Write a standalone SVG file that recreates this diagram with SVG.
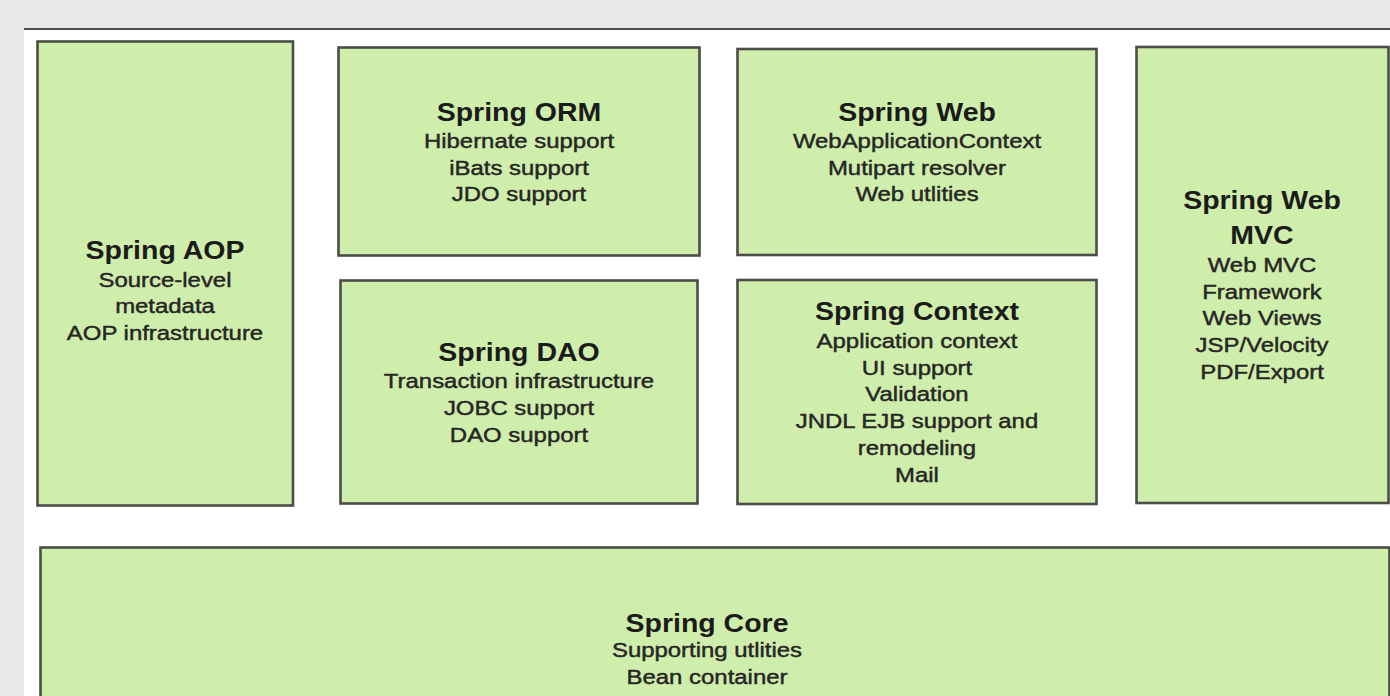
<svg xmlns="http://www.w3.org/2000/svg" width="1390" height="696" viewBox="0 0 1390 696">
<defs>
<style>
.box{fill:#d0eeab;stroke:#4a4d48;stroke-width:2.6}
.t{font-family:"Liberation Sans",Arial,sans-serif;font-weight:bold;font-size:25px;fill:#1b1b1b;text-anchor:middle}
.s{font-family:"Liberation Sans",Arial,sans-serif;font-size:21px;fill:#262626;stroke:#262626;stroke-width:0.45;text-anchor:middle}
</style>
</defs>
<rect x="0" y="0" width="1390" height="696" fill="#e9e9e9"/>
<rect x="24" y="29" width="1366" height="667" fill="#ffffff"/>
<line x1="24" y1="29" x2="1390" y2="29" stroke="#505050" stroke-width="2"/>
<g id="connectors"></g>
<g id="aop">
<rect class="box" x="37.5" y="41.5" width="255.5" height="464"/>
<g transform="translate(165 0) scale(1.14 1)">
<text class="t" x="0" y="259">Spring AOP</text>
<text class="s" x="0" y="287">Source-level</text>
<text class="s" x="0" y="313">metadata</text>
<text class="s" x="0" y="340">AOP infrastructure</text>
</g>
</g>
<g id="orm">
<rect class="box" x="338.5" y="47.5" width="361" height="208"/>
<g transform="translate(519 0) scale(1.14 1)">
<text class="t" x="0" y="121">Spring ORM</text>
<text class="s" x="0" y="148">Hibernate support</text>
<text class="s" x="0" y="175">iBats support</text>
<text class="s" x="0" y="201">JDO support</text>
</g>
</g>
<g id="dao">
<rect class="box" x="340.5" y="280.5" width="357" height="223"/>
<g transform="translate(519 0) scale(1.14 1)">
<text class="t" x="0" y="361">Spring DAO</text>
<text class="s" x="0" y="388">Transaction infrastructure</text>
<text class="s" x="0" y="415">JOBC support</text>
<text class="s" x="0" y="442">DAO support</text>
</g>
</g>
<g id="web">
<rect class="box" x="737.5" y="49" width="359" height="206"/>
<g transform="translate(917 0) scale(1.14 1)">
<text class="t" x="0" y="121">Spring Web</text>
<text class="s" x="0" y="148">WebApplicationContext</text>
<text class="s" x="0" y="175">Mutipart resolver</text>
<text class="s" x="0" y="201">Web utlities</text>
</g>
</g>
<g id="context">
<rect class="box" x="737.5" y="280" width="359" height="224"/>
<g transform="translate(917 0) scale(1.14 1)">
<text class="t" x="0" y="320">Spring Context</text>
<text class="s" x="0" y="348">Application context</text>
<text class="s" x="0" y="375">UI support</text>
<text class="s" x="0" y="401">Validation</text>
<text class="s" x="0" y="428">JNDL EJB support and</text>
<text class="s" x="0" y="455">remodeling</text>
<text class="s" x="0" y="482">Mail</text>
</g>
</g>
<g id="mvc">
<rect class="box" x="1136.5" y="47" width="252" height="456"/>
<g transform="translate(1262 0) scale(1.14 1)">
<text class="t" x="0" y="209">Spring Web</text>
<text class="t" x="0" y="244">MVC</text>
<text class="s" x="0" y="272">Web MVC</text>
<text class="s" x="0" y="299">Framework</text>
<text class="s" x="0" y="325">Web Views</text>
<text class="s" x="0" y="352">JSP/Velocity</text>
<text class="s" x="0" y="379">PDF/Export</text>
</g>
</g>
<g id="core">
<rect class="box" x="40.5" y="547.5" width="1349" height="170"/>
<g transform="translate(707 0) scale(1.14 1)">
<text class="t" x="0" y="632">Spring Core</text>
<text class="s" x="0" y="657">Supporting utlities</text>
<text class="s" x="0" y="684">Bean container</text>
</g>
</g>
</svg>
